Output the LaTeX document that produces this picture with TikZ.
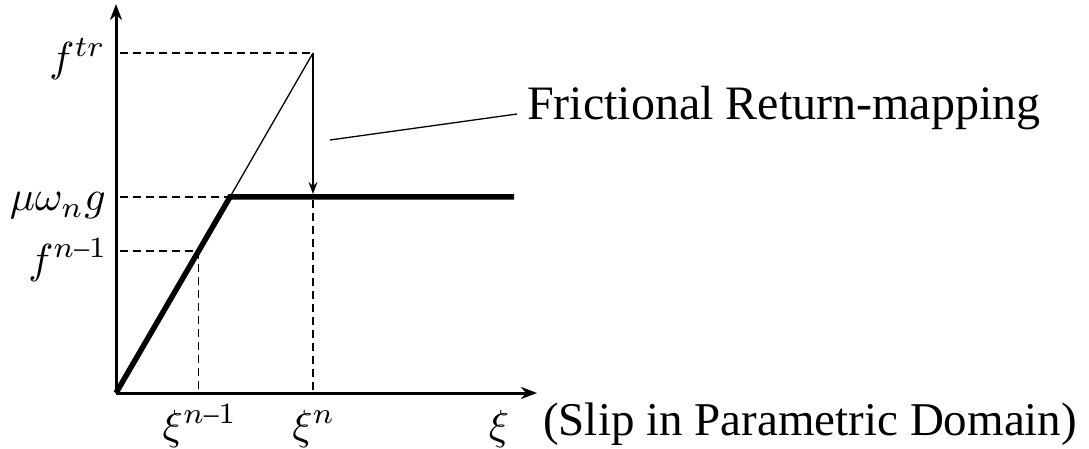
\documentclass[tikz,border=0pt]{standalone}
\usepackage{graphicx}
\usepackage{fontspec}
\setmainfont{Liberation Serif}
\usetikzlibrary{arrows.meta,calc}
\newcommand\bigmath[1]{\scalebox{4.2}{$#1$}}
\newcommand\nd{\mbox{\fontsize{7}{7}\selectfont –}}
\begin{document}
\begin{tikzpicture}[x=1pt,y=-1pt,
  axis/.style={line width=3pt,-{Stealth[length=16pt,width=12pt,inset=5pt]}},
  law/.style={line width=5.5pt,line join=miter},
  thinline/.style={line width=1.3pt},
  retarrow/.style={line width=1.3pt,-{Stealth[length=12pt,width=9pt,inset=4pt]}},
  guide/.style={line width=1.4pt,dash pattern=on 8pt off 5pt},
  sym/.style={font=\fontsize{10}{12}\selectfont, inner sep=0pt},
  txt/.style={font=\fontsize{47}{47}\selectfont, inner sep=0pt}]
\useasboundingbox (0,0) rectangle (1089,449);
% geometry
\coordinate (O) at (116,393);
\coordinate (ytop) at (116,4);
\coordinate (xend) at (537,393);
\coordinate (K) at (230,197);
\coordinate (E) at (514,197);
\coordinate (T) at (313,53);
\coordinate (N) at (313,197);
\coordinate (Ntop) at (313,194);
\coordinate (Nbot) at (313,200);
\coordinate (Nb) at (313,393);
\coordinate (P) at ($(O)!0.725!(K)$);
\coordinate (Pb) at (P |- O);
\coordinate (aT) at (120,53);
\coordinate (aK) at (120,197);
\coordinate (aP) at (120,251);
\coordinate (c1) at (330,140);
\coordinate (c2) at (517,114);
% guides
\draw[guide] (aT) -- (T);
\draw[guide] (aK) -- (K);
\draw[guide] (aP) -- (aP -| P);
\draw[guide] (P) -- (Pb);
\draw[guide] (Nbot) -- (Nb);
% axes
\draw[axis] (O) -- (ytop);
\draw[axis] (O) -- (xend);
% friction law
\draw[law] (O) -- (K) -- (E);
\draw[thinline] (K) -- (T);
\draw[retarrow] (T) -- (Ntop);
\draw[thinline] (c1) -- (c2);
% labels
\node[sym,anchor=base east] (ftr) at (106,72) {\bigmath{f^{tr}}};
\node[sym,anchor=base east] (mu) at (106,211) {\bigmath{\mu\omega_{n}g}};
\node[sym,anchor=base east] (fn1) at (108,273) {\bigmath{f^{n\nd1}}};
\node[sym,anchor=base] (xin1) at (200,439) {\bigmath{\xi^{n\nd1}}};
\node[sym,anchor=base] (xin) at (314,439) {\bigmath{\xi^{n}}};
\node[sym,anchor=base] (xi) at (499,439) {\bigmath{\xi}};
\node[txt,font=\fontsize{48}{48}\selectfont,anchor=base west] (fr) at (527,120) {Frictional Return-mapping};
\node[txt,anchor=base west] (slip) at (543,435) {(Slip in Parametric Domain)};
\end{tikzpicture}
\end{document}
